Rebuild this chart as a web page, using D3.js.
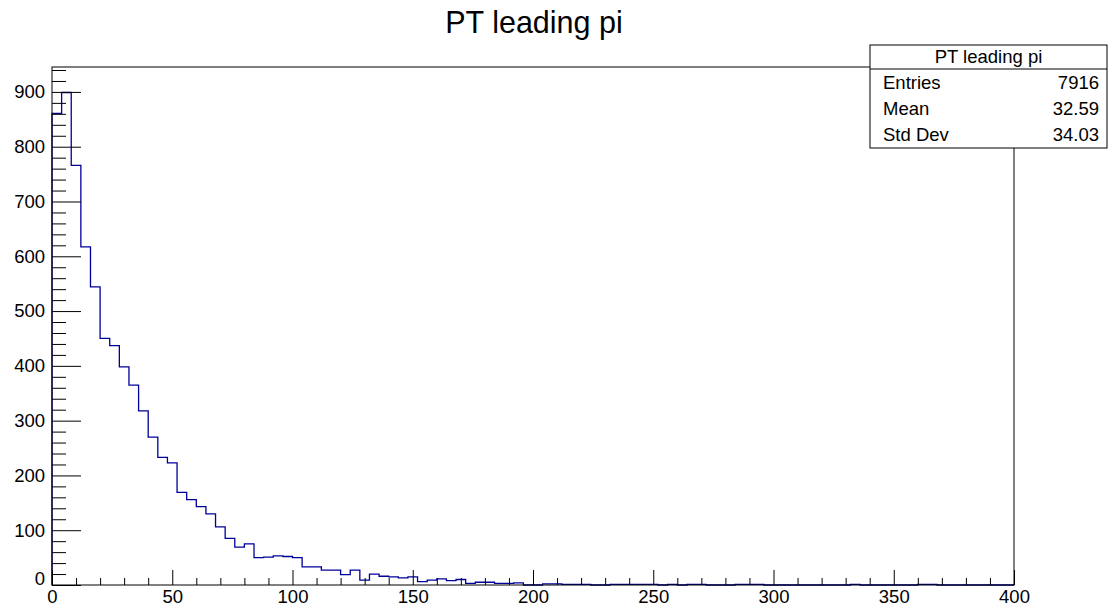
<!DOCTYPE html>
<html>
<head>
<meta charset="utf-8">
<script src="https://cdn.jsdelivr.net/npm/d3@7"></script>
<style>
  body { margin: 0; background: #fff; }
  svg { display: block; font-family: "Liberation Sans", Arial, Helvetica, sans-serif; }
</style>
</head>
<body>
<div id="container"></div>
<script>
// histogram: 100 bins of width 4 from 0 to 400
var binEdges = d3.range(0, 404, 4);
var counts = [
  861, 899, 766, 617, 544, 450, 437, 398, 365, 318,
  270, 233, 223, 169, 156, 143, 130, 106, 85, 69,
  75, 50, 51, 53, 52, 50, 33, 33, 27, 27,
  19, 27, 9, 20, 16, 15, 13, 15, 6, 9,
  11, 8, 10, 3, 5, 5, 3, 3, 4, 0,
  0, 2, 2, 1, 1, 1, 0, 0, 1, 1,
  1, 1, 1, 0, 1, 0, 1, 1, 0, 0,
  0, 1, 1, 1, 0, 0, 0, 0, 0, 0,
  0, 0, 0, 1, 0, 0, 0, 0, 0, 0,
  1, 1, 0, 0, 0, 0, 0, 0, 0, 0
];
var xMajor = [0, 50, 100, 150, 200, 250, 300, 350, 400];
var yMajor = [0, 100, 200, 300, 400, 500, 600, 700, 800, 900];
var statLabels = ["Entries", "Mean", "Std Dev"];
var statValues = ["7916", "32.59", "34.03"];
var title = "PT leading pi";

var W = 1108, H = 610;
var frame = { left: 52, right: 1014, top: 67, bottom: 585 };

var svg = d3.select("#container").append("svg")
  .attr("width", W).attr("height", H);

var x = d3.scaleLinear().domain([0, 400]).range([frame.left, frame.right]);
var y = d3.scaleLinear().domain([0, 945.5]).range([frame.bottom, frame.top]);

// histogram outline
var pts = counts.map(function (c, i) { return [binEdges[i], c]; });
pts.unshift([0, 0]);
pts.push([400, counts[counts.length - 1]]);
pts.push([400, 0]);
var line = d3.line()
  .x(function (d) { return x(d[0]); })
  .y(function (d) { return y(d[1]); })
  .curve(d3.curveStepAfter);
svg.append("path")
  .datum(pts)
  .attr("d", line)
  .attr("fill", "none")
  .attr("stroke", "#000099")
  .attr("stroke-width", 1.3);

// frame
svg.append("rect")
  .attr("x", frame.left).attr("y", frame.top)
  .attr("width", frame.right - frame.left)
  .attr("height", frame.bottom - frame.top)
  .attr("fill", "none").attr("stroke", "#000").attr("stroke-width", 1);

// x axis
var xMinor = d3.range(0, 401, 10).filter(function (v) { return v % 50 !== 0; });
var gx = svg.append("g").attr("transform", "translate(0," + frame.bottom + ")");
gx.call(d3.axisBottom(x).tickValues(xMajor).tickSize(-15).tickPadding(5)
  .tickFormat(d3.format("d")));
gx.append("g").call(d3.axisBottom(x).tickValues(xMinor).tickSize(-7).tickFormat(""));

// y axis
var yMinor = d3.range(0, 941, 20).filter(function (v) { return v % 100 !== 0; });
var gy = svg.append("g").attr("transform", "translate(" + frame.left + ",0)");
gy.call(d3.axisLeft(y).tickValues(yMajor).tickSize(-29).tickPadding(7)
  .tickFormat(d3.format("d")));
gy.append("g").call(d3.axisLeft(y).tickValues(yMinor).tickSize(-14).tickFormat(""));

svg.selectAll(".domain").remove();
svg.selectAll(".tick line").attr("stroke", "#000").attr("stroke-width", 1);
svg.selectAll(".tick text").attr("font-size", 18.5).attr("fill", "#000")
  .attr("font-family", "Liberation Sans, Arial, Helvetica, sans-serif");
// ROOT nudges the zero label of the y axis upward
gy.selectAll(".tick text").filter(function (d) { return d === 0; }).attr("dy", "-0.05em");

// title
svg.append("text")
  .attr("x", 534).attr("y", 33)
  .attr("text-anchor", "middle")
  .attr("font-size", 30.5)
  .text(title);

// stats box
var box = { left: 870, right: 1107, top: 45, bottom: 148, sep: 69 };
var stats = svg.append("g");
stats.append("rect")
  .attr("x", box.left).attr("y", box.top)
  .attr("width", box.right - box.left).attr("height", box.bottom - box.top)
  .attr("fill", "#fff").attr("stroke", "#000").attr("stroke-width", 1);
stats.append("line")
  .attr("x1", box.left).attr("x2", box.right)
  .attr("y1", box.sep).attr("y2", box.sep)
  .attr("stroke", "#000");
stats.append("text")
  .attr("x", (box.left + box.right) / 2).attr("y", (box.top + box.sep) / 2)
  .attr("dy", "0.35em").attr("text-anchor", "middle")
  .attr("font-size", 18.5).text(title);
var rowH = (box.bottom - box.sep) / statLabels.length;
statLabels.forEach(function (lab, i) {
  var cy = box.sep + rowH * (i + 0.5);
  stats.append("text").attr("x", 883).attr("y", cy).attr("dy", "0.35em")
    .attr("font-size", 18.5).text(lab);
  stats.append("text").attr("x", 1099).attr("y", cy).attr("dy", "0.35em")
    .attr("text-anchor", "end").attr("font-size", 18.5).text(statValues[i]);
});
</script>
</body>
</html>
